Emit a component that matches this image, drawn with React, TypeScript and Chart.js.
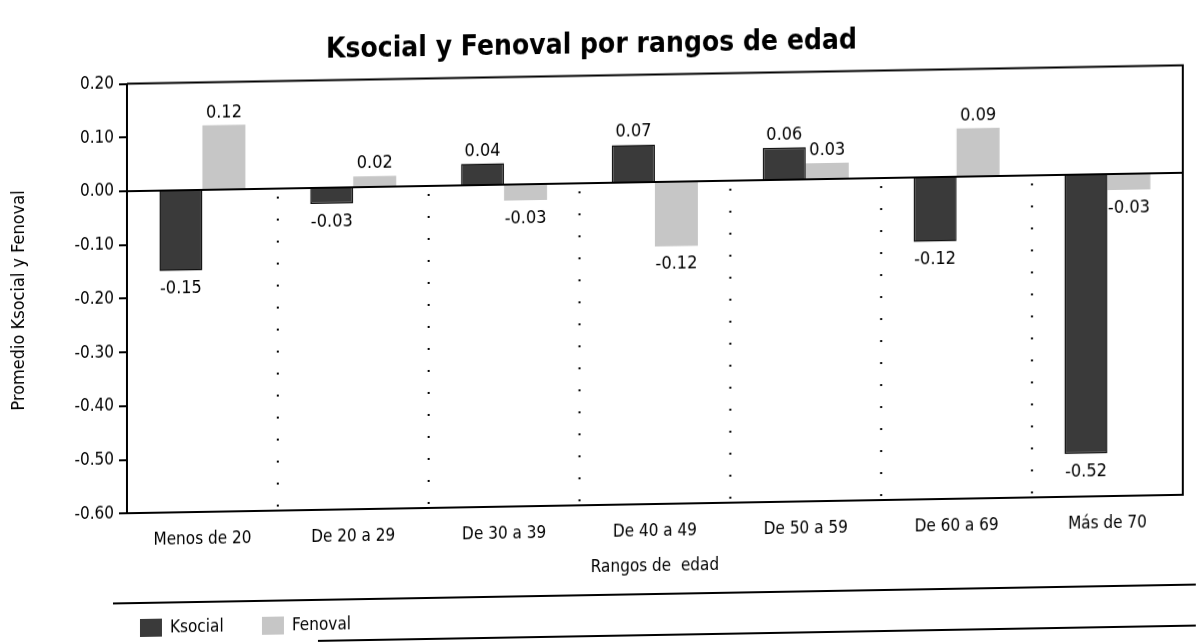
import React, { useEffect, useRef } from "react";
import { Chart, registerables } from "chart.js";

Chart.register(...registerables);

const categories = ["Menos de 20", "De 20 a 29", "De 30 a 39", "De 40 a 49", "De 50 a 59", "De 60 a 69", "Más de 70"];
const ksocial = [-0.15, -0.03, 0.04, 0.07, 0.06, -0.12, -0.52];
const fenoval = [0.12, 0.02, -0.03, -0.12, 0.03, 0.09, -0.03];
const seriesNames = ["Ksocial", "Fenoval"];
const titleText = "Ksocial y Fenoval por rangos de edad";
const yTitle = "Promedio Ksocial y Fenoval";
const xTitle = "Rangos de  edad";

const FONT = '"Liberation Sans Narrow", "DejaVu Sans Condensed", sans-serif';
const DARK = "#3a3a3a";
const LIGHT = "#c6c6c6";

const decorPlugin = {
  id: "decor",
  afterDatasetsDraw(chart: any) {
    const { ctx, chartArea, scales } = chart;
    const x = scales.x;
    const y = scales.y;
    const zeroY = y.getPixelForValue(0);
    ctx.save();
    // box top and right
    ctx.strokeStyle = "#000";
    ctx.lineWidth = 2;
    ctx.beginPath();
    ctx.moveTo(chartArea.left, chartArea.top);
    ctx.lineTo(chartArea.right, chartArea.top);
    ctx.lineTo(chartArea.right, chartArea.bottom);
    ctx.stroke();
    // dotted separators below zero
    ctx.lineWidth = 2;
    ctx.setLineDash([2, 20]);
    for (let i = 1; i < categories.length; i++) {
      const px = (x.getPixelForValue(i - 1) + x.getPixelForValue(i)) / 2;
      ctx.beginPath();
      ctx.moveTo(px, zeroY + 8);
      ctx.lineTo(px, chartArea.bottom);
      ctx.stroke();
    }
    ctx.setLineDash([]);
    // zero line
    ctx.lineWidth = 2;
    ctx.beginPath();
    ctx.moveTo(chartArea.left, zeroY);
    ctx.lineTo(chartArea.right, zeroY);
    ctx.stroke();
    // data labels
    ctx.fillStyle = "#000";
    ctx.font = `18px ${FONT}`;
    ctx.textAlign = "center";
    chart.data.datasets.forEach((ds: any, di: number) => {
      const meta = chart.getDatasetMeta(di);
      meta.data.forEach((bar: any, i: number) => {
        const v = ds.data[i];
        const txt = v.toFixed(2);
        if (v >= 0) {
          ctx.textBaseline = "alphabetic";
          ctx.fillText(txt, bar.x, bar.y - 8);
        } else {
          ctx.textBaseline = "top";
          ctx.fillText(txt, bar.x, bar.y + 9);
        }
      });
    });
    // legend area: rules and keys
    ctx.lineWidth = 2;
    ctx.beginPath();
    ctx.moveTo(113, 595);
    ctx.lineTo(chart.width, 595);
    ctx.stroke();
    ctx.beginPath();
    ctx.moveTo(318, 636);
    ctx.lineTo(chart.width, 636);
    ctx.stroke();
    let lx = 140;
    const ly = 620;
    ctx.font = `17px ${FONT}`;
    ctx.textAlign = "left";
    ctx.textBaseline = "middle";
    chart.data.datasets.forEach((ds: any) => {
      ctx.fillStyle = ds.backgroundColor;
      ctx.fillRect(lx, ly - 9, 22, 18);
      ctx.fillStyle = "#000";
      ctx.fillText(ds.label, lx + 30, ly + 1);
      lx += 122;
    });
    ctx.restore();
  },
};

export default function App() {
  const ref = useRef<HTMLCanvasElement>(null);
  useEffect(() => {
    document.body.style.margin = "0";
    const chart = new Chart(ref.current as HTMLCanvasElement, {
      type: "bar",
      data: {
        labels: categories,
        datasets: [
          { label: seriesNames[0], data: ksocial, backgroundColor: DARK, borderColor: "#111", borderWidth: 1.5, categoryPercentage: 0.57, barPercentage: 1.0 },
          { label: seriesNames[1], data: fenoval, backgroundColor: LIGHT, borderWidth: 0, categoryPercentage: 0.57, barPercentage: 1.0 },
        ],
      },
      options: {
        responsive: false,
        animation: false,
        maintainAspectRatio: false,
        layout: { padding: { left: 0, right: 13, top: 0, bottom: 65 } },
        plugins: {
          legend: { display: false },
          tooltip: { enabled: false },
          title: {
            display: true,
            text: titleText,
            color: "#000",
            font: { family: FONT, size: 28, weight: "bold" },
            padding: { top: 29, bottom: 13 },
          },
        },
        scales: {
          x: {
            grid: { display: false, tickLength: 8 },
            border: { color: "#000", width: 2 },
            ticks: { color: "#000", font: { family: FONT, size: 17 }, padding: 9 },
            title: { display: true, text: xTitle, color: "#000", font: { family: FONT, size: 17 }, padding: { top: 6, bottom: 0 } },
          },
          y: {
            min: -0.6,
            max: 0.2,
            afterFit: (s: any) => {
              s.width = 127;
            },
            ticks: {
              stepSize: 0.1,
              color: "#000",
              font: { family: FONT, size: 17 },
              padding: 5,
              callback: (v: any) => Number(v).toFixed(2),
            },
            grid: { color: "transparent", tickColor: "#000", tickLength: 8, drawTicks: true, lineWidth: 2 },
            border: { color: "#000", width: 2 },
            title: { display: true, text: yTitle, color: "#000", font: { family: FONT, size: 18 }, padding: { top: 9, bottom: 10 } },
          },
        },
      },
      plugins: [decorPlugin],
    });
    return () => chart.destroy();
  }, []);
  return (
    <div style={{ width: 1196, height: 643, background: "#fff", transform: "skewY(-1deg)", transformOrigin: "50% 50%" }}>
      <canvas ref={ref} width={1196} height={643} style={{ display: "block" }} />
    </div>
  );
}
